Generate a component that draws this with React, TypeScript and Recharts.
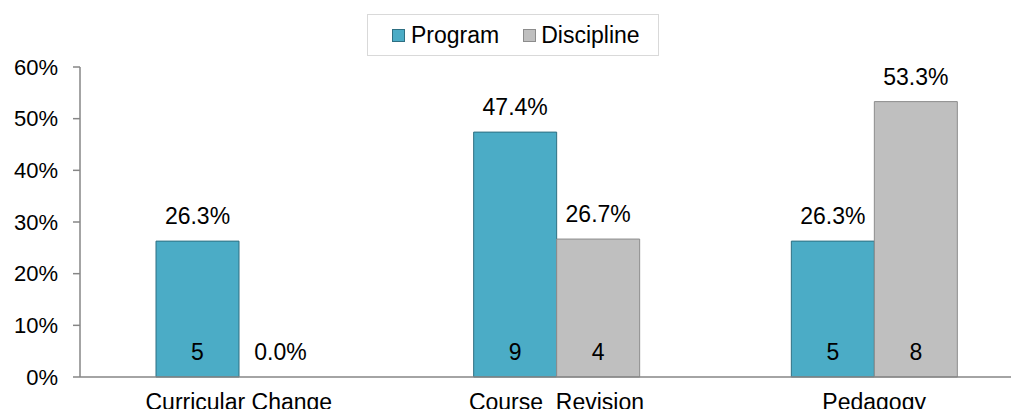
import { BarChart, Bar, XAxis, YAxis, Legend, LabelList } from 'recharts';

const categories = ['Curricular Change', 'Course\u00a0 Revision', 'Pedagogy'];
const programPct = [26.3, 47.4, 26.3];
const disciplinePct = [0.0, 26.7, 53.3];
const programCount = [5, 9, 5];
const disciplineCount = [0, 4, 8];
const yTicks = [0, 10, 20, 30, 40, 50, 60];

const data = categories.map((name, i) => ({
  name,
  program: programPct[i],
  discipline: disciplinePct[i],
  programCount: programCount[i],
  disciplineCount: disciplineCount[i],
}));

const FONT = '"Liberation Sans", Arial, sans-serif';
const TEXT = '#000000';
const FS = 23;

const pctLabel = (props: any) => {
  const { x, y, width, value } = props;
  return (
    <text x={x + width / 2} y={y - 25} textAnchor="middle" dominantBaseline="central"
      fontFamily={FONT} fontSize={FS} fill={TEXT}>
      {Number(value).toFixed(1)}%
    </text>
  );
};

// program label, plus the discipline label when that bar has zero height
// (recharts draws nothing for a zero-height bar, so its label goes here)
const programPctLabel = (props: any) => {
  const { x, y, width, height, index } = props;
  const d = data[index];
  return (
    <g>
      {pctLabel(props)}
      {d && d.discipline === 0 && (
        <text x={x + width * 1.5} y={y + height - 25} textAnchor="middle" dominantBaseline="central"
          fontFamily={FONT} fontSize={FS} fill={TEXT}>
          {d.discipline.toFixed(1)}%
        </text>
      )}
    </g>
  );
};

const countLabel = (props: any) => {
  const { x, y, width, height, value } = props;
  if (!value) return null;
  return (
    <text x={x + width / 2} y={y + height - 25} textAnchor="middle" dominantBaseline="central"
      fontFamily={FONT} fontSize={FS} fill={TEXT}>
      {value}
    </text>
  );
};

const renderLegend = () => (
  <div
    style={{
      width: 292,
      height: 42,
      boxSizing: 'border-box',
      border: '1px solid #D9D9D9',
      background: '#fff',
      display: 'flex',
      alignItems: 'center',
      paddingLeft: 24,
      fontFamily: FONT,
      fontSize: FS,
      color: TEXT,
    }}
  >
    <span style={{ display: 'inline-block', width: 11, height: 11, background: '#4BACC6', border: '1px solid #2E6F82', marginRight: 6 }} />
    <span style={{ marginRight: 24 }}>Program</span>
    <span style={{ display: 'inline-block', width: 11, height: 11, background: '#BFBFBF', border: '1px solid #8C8C8C', marginRight: 5 }} />
    <span>Discipline</span>
  </div>
);

const CategoryTick = (props: any) => {
  const { x, y, payload } = props;
  return (
    <text x={x} y={y + 9} textAnchor="middle" dy="0.71em" fontFamily={FONT} fontSize={FS} fill={TEXT}>
      {payload.value}
    </text>
  );
};

export default function App() {
  return (
    <div style={{ width: 1019, height: 417, overflow: 'hidden', margin: -8, background: '#fff' }}>
      <BarChart
        width={1050}
        height={417}
        data={data}
        margin={{ top: 67, right: 17, bottom: 0, left: 0 }}
        barGap={0}
        barSize={83}
      >
        <XAxis
          dataKey="name"
          axisLine={{ stroke: '#868686', strokeWidth: 1.5 }}
          tickLine={false}
          height={40}
          interval={0}
          tick={<CategoryTick />}
        />
        <YAxis
          domain={[0, 60]}
          ticks={yTicks}
          width={80}
          axisLine={{ stroke: '#868686', strokeWidth: 1.5 }}
          tickLine={{ stroke: '#868686', strokeWidth: 1.5 }}
          tickSize={7}
          tickMargin={15}
          tickFormatter={(v: number) => `${v}%`}
          tick={{ fontFamily: FONT, fontSize: 22, fill: TEXT }}
        />
        <Legend
          layout="horizontal"
          verticalAlign="middle"
          content={renderLegend}
          wrapperStyle={{ left: 367, top: 14, width: 292 }}
        />
        <Bar dataKey="program" name="Program" fill="#4BACC6" stroke="#2E6F82" strokeWidth={1} isAnimationActive={false}>
          <LabelList dataKey="program" content={programPctLabel} />
          <LabelList dataKey="programCount" content={countLabel} />
        </Bar>
        <Bar dataKey="discipline" name="Discipline" fill="#BFBFBF" stroke="#8C8C8C" strokeWidth={1} isAnimationActive={false}>
          <LabelList dataKey="discipline" content={pctLabel} />
          <LabelList dataKey="disciplineCount" content={countLabel} />
        </Bar>
      </BarChart>
    </div>
  );
}
